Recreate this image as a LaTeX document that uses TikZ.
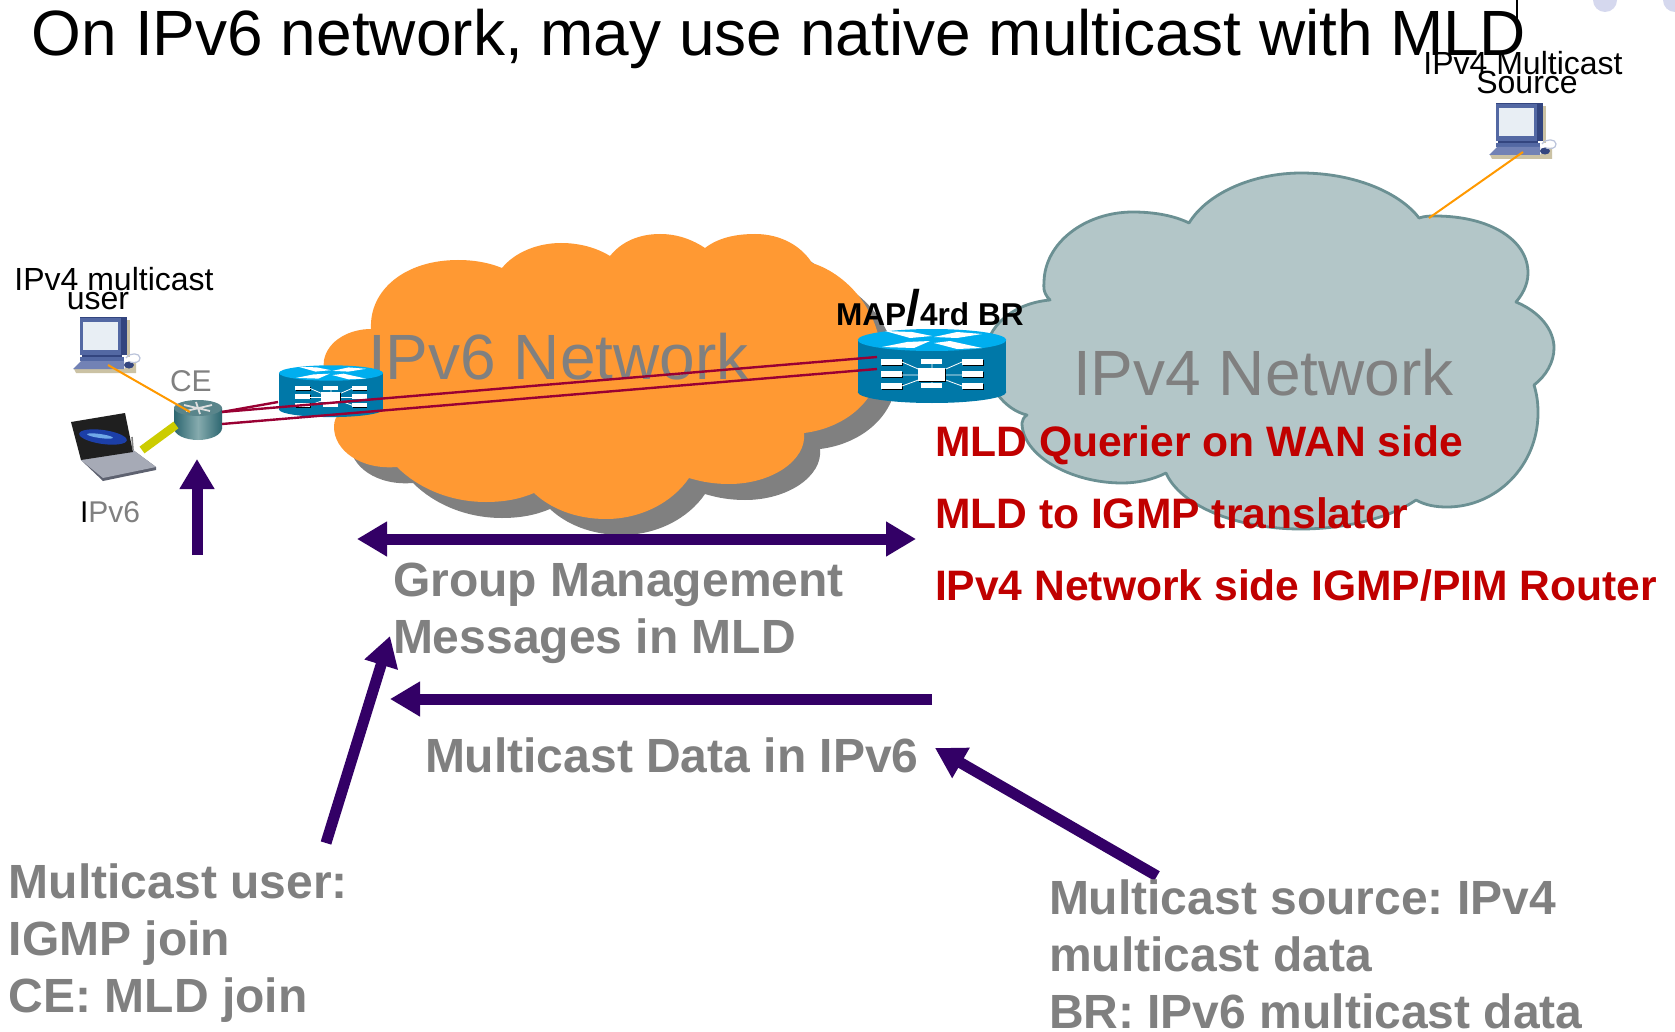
\documentclass[tikz,border=0pt]{standalone}
\usepackage{fontspec}
\setmainfont{Liberation Sans}
\usetikzlibrary{arrows.meta}
\frenchspacing
\definecolor{arrowpurple}{HTML}{330066}
\definecolor{cloudorange}{HTML}{FF9933}
\definecolor{cloudgrey}{HTML}{B3C6C8}
\definecolor{cloudedge}{HTML}{6B9093}
\definecolor{textgrey}{HTML}{808080}
\definecolor{textred}{HTML}{C00000}
\definecolor{linkred}{HTML}{990033}
\definecolor{linkorange}{HTML}{FF9900}
\definecolor{routerbody}{HTML}{0078A8}
\definecolor{routertop}{HTML}{00AEEF}
\definecolor{dotlav}{HTML}{D5D8EE}
\definecolor{pcface}{HTML}{5368A3}
\definecolor{pcdark}{HTML}{33457F}
\definecolor{pclight}{HTML}{7282B5}
\definecolor{pcscreen}{HTML}{E8EEF4}
\definecolor{pcshadow}{HTML}{CBC2A4}
\definecolor{ceside}{HTML}{2C6670}
\definecolor{cemid}{HTML}{86ABAE}
\definecolor{cetop}{HTML}{5A858B}
\definecolor{lapdeck}{HTML}{A6AAB6}
\definecolor{lapedge}{HTML}{5E6270}
\definecolor{lapswirl}{HTML}{1C3FA8}
\definecolor{lapglow}{HTML}{6FA8E8}
\definecolor{linkyellow}{HTML}{CCCC00}
\tikzset{
  orangeoutline/.style={insert path={
    (371,329) .. controls (369,290) and (405,260) .. (458,260) .. controls (475,260) and (490,263) .. (502,268)
    .. controls (515,252) and (538,243) .. (561,243) .. controls (580,243) and (597,248) .. (610,256)
    .. controls (622,241) and (640,234) .. (660,234) .. controls (678,234) and (693,240) .. (705,248)
    .. controls (718,238) and (735,234) .. (755,234) .. controls (782,234) and (802,247) .. (812,263)
    .. controls (850,275) and (881,315) .. (881,357) .. controls (881,400) and (845,428) .. (804,433)
    .. controls (807,460) and (772,484) .. (729,484) .. controls (715,484) and (702,482) .. (689,478)
    .. controls (672,503) and (640,519) .. (606,519) .. controls (575,519) and (550,508) .. (534,493)
    .. controls (520,499) and (504,502) .. (486,502) .. controls (450,502) and (418,488) .. (397,467)
    .. controls (360,470) and (334,450) .. (334,427) .. controls (334,420) and (336,417) .. (340,413)
    .. controls (328,400) and (322,380) .. (324,360) .. controls (328,340) and (350,329) .. (371,329) -- cycle}},
  greyoutline/.style={insert path={
    (1050,300) .. controls (1042,292) and (1044,285) .. (1044,283) .. controls (1044,243) and (1085,212) .. (1133,212) .. controls (1155,212) and (1175,216) .. (1189,223)
    .. controls (1208,192) and (1255,173) .. (1301,173) .. controls (1355,173) and (1400,193) .. (1419,218)
    .. controls (1425,216) and (1430,216) .. (1435,216) .. controls (1490,216) and (1528,240) .. (1528,273) .. controls (1528,285) and (1522,295) .. (1516,302)
    .. controls (1540,312) and (1554,330) .. (1554,348) .. controls (1554,362) and (1546,376) .. (1534,385)
    .. controls (1537,395) and (1538,403) .. (1538,413) .. controls (1538,465) and (1497,507) .. (1447,507) .. controls (1435,507) and (1425,505) .. (1416,500)
    .. controls (1390,518) and (1345,529) .. (1301,529) .. controls (1235,529) and (1180,505) .. (1166,473)
    .. controls (1152,480) and (1137,483) .. (1122,483) .. controls (1070,483) and (1022,455) .. (1022,423) .. controls (1022,420) and (1024,417) .. (1027,415)
    .. controls (1005,410) and (985,385) .. (985,358) .. controls (985,325) and (1015,303) .. (1050,300) -- cycle}},
  bigarrow/.style={draw=arrowpurple,line width=5.5pt,-{Triangle[length=15pt,width=16.5pt]}},
  bothways/.style={draw=arrowpurple,line width=5.5pt,{Triangle[length=15pt,width=16.5pt]}-{Triangle[length=15pt,width=16.5pt]}},
  redlink/.style={draw=linkred,line width=1.2pt},
  orangelink/.style={draw=linkorange,line width=1pt},
  txt/.style={inner sep=0pt,outer sep=0pt,anchor=base west},
  txtc/.style={inner sep=0pt,outer sep=0pt,anchor=base},
  cloudlabel/.style={txt,text=textgrey,font=\fontsize{32}{38}\selectfont},
  redlabel/.style={txt,text=textred,font=\fontsize{21.3}{25}\selectfont\bfseries},
  notelabel/.style={txt,text=textgrey,align=left,font=\fontsize{24}{28.5}\selectfont\bfseries},
  smalllabel/.style={txtc,font=\fontsize{16}{19}\selectfont},
  router/.pic={
    \fill[routerbody] (0,52) ellipse [x radius=74.3,y radius=11];
    \fill[routerbody] (-74.3,0) rectangle (74.3,52);
    \fill[routertop] (0,0) ellipse [x radius=74.3,y radius=11];
    \fill[white] (-47,-9) -- (-20,-8) -- (0,-4) -- (-22,-2) -- cycle;
    \fill[white] (2,-3) -- (25,-8) -- (50,-6) -- (25,-2) -- cycle;
    \fill[white] (-50,7) -- (-25,2) -- (-2,1) -- (-18,8) -- cycle;
    \fill[white] (2,3) -- (18,1) -- (50,8) -- (25,9) -- cycle;
    \foreach \yy in {20,32,44}{
      \fill[black] (-50,\yy-0.5) rectangle (-29,\yy+5.5);
      \fill[black] (31,\yy-0.5) rectangle (52,\yy+5.5);
      \fill[white] (-51,\yy-1.5) rectangle (-30,\yy+4.5);
      \fill[white] (30,\yy-1.5) rectangle (51,\yy+4.5);
    }
    \fill[white] (-11,18.5) rectangle (9.5,24);
    \fill[white] (-11,42.5) rectangle (9.5,48);
    \draw[white,line width=.4pt] (-30,22) -- (0,35) -- (30,22) (-30,46) -- (0,35) -- (30,46) (-30,35) -- (30,35) (0,22) -- (0,46);
    \fill[black] (-13,28.5) rectangle (14,42);
    \fill[white] (-14,27.5) rectangle (13,41);
  },
  desktop/.pic={
    \fill[pcshadow] (-6,52) -- (44,52) -- (52,45) -- (56,45) -- (56,56) -- (-4,56) -- cycle;
    \fill[pcshadow] (47,3) rectangle (50,40);
    \fill[pcdark] (0,0) rectangle (47,38);
    \fill[pcface] (0,1) rectangle (41,38);
    \fill[pcscreen] (3,5) rectangle (38,33);
    \fill[pcdark] (2,38) rectangle (42,40);
    \fill[pcface] (0,40) rectangle (44,44);
    \fill[pclight] (-7,52) -- (1,44) -- (44,44) -- (44,52) -- cycle;
    \fill[pcdark] (49,48) ellipse [x radius=5,y radius=3.5];
    \draw[pcface!40!white,line width=.6pt] (46,41) .. controls (50,35) and (60,36) .. (60,41) .. controls (60,46) and (54,46) .. (50,45);
  },
}
\begin{document}
\begin{tikzpicture}[x=0.5pt,y=-0.5pt]
\useasboundingbox (0,0) rectangle (1675,1032);
\fill[white] (0,0) rectangle (1675,1032);
\begin{scope}
  \clip (0,0) rectangle (1675,1032);
  \fill[dotlav] (1605,0) circle [radius=12];
  \fill[dotlav] (1675,0) circle [radius=12];
\end{scope}
\coordinate (barTop) at (1517,0);
\coordinate (barEnd) at (1517,20);
\draw[black,line width=.6pt] (barTop) -- (barEnd);
% clouds
\begin{scope}[shift={(16,16)}]
  \fill[textgrey,orangeoutline];
\end{scope}
\fill[cloudorange,orangeoutline];
\draw[fill=cloudgrey,draw=cloudedge,line width=1.4pt,line join=round,greyoutline];
% cloud labels
\node[cloudlabel] (v6net) at (368,379) {IPv6 Network};
\node[cloudlabel] (v4net) at (1073,395) {IPv4 Network};
% routers
\pic (smallR) [scale=0.7] at (331,373) {router};
\pic (bigR) at (932,340) {router};
% CE
\shade[left color=ceside,right color=ceside,middle color=cemid] (198,428) ellipse [x radius=24,y radius=12];
\shade[left color=ceside,right color=ceside,middle color=cemid] (174,408) rectangle (222,428);
\fill[cetop] (198,408) ellipse [x radius=24,y radius=8];
\draw[white!75!gray,line width=.9pt] (184,405) -- (210,411) (186,411) -- (212,405) (196,402) -- (200,414);
% endpoints
\coordinate (ceOutA) at (222,412);
\coordinate (ceOutB) at (222,424);
\coordinate (smallEdge) at (278,402);
\coordinate (bigInA) at (877,357);
\coordinate (bigInB) at (877,369);
\coordinate (userPort) at (108,365);
\coordinate (cePort) at (190,412);
\coordinate (srcPort) at (1523,152);
\coordinate (cloudPort) at (1429,218);
\coordinate (lapEnd) at (142,450);
\coordinate (ceSide) at (176,425);
\draw[redlink] (ceOutA) -- (smallEdge);
\draw[redlink] (ceOutA) -- (bigInA);
\draw[redlink] (ceOutB) -- (bigInB);
% computers
\pic (userPC) at (80,317) {desktop};
\pic (srcPC) at (1496,103) {desktop};
\draw[orangelink] (userPort) -- (cePort);
\draw[orangelink] (srcPort) -- (cloudPort);
% laptop
\fill[lapedge] (81,460) -- (133,450) -- (156,467) -- (156,470) -- (103,481) -- cycle;
\fill[lapdeck] (81,460) -- (133,450) -- (156,467) -- (103,478) -- cycle;
\fill[black!88] (71,422) -- (125,413) -- (133,452) -- (81,460) -- cycle;
\fill[lapswirl,rotate around={-8:(103,437)}] (103,437) ellipse [x radius=24,y radius=7];
\fill[lapglow,rotate around={-8:(100,436)}] (100,436) ellipse [x radius=13,y radius=2];
\draw[black!50,line width=.8pt] (132,437) -- (133,450);
\draw[draw=linkyellow,line width=4.2pt] (lapEnd) -- (ceSide);
% arrows
\coordinate (a1t) at (197,555); \coordinate (a1h) at (197,459);
\coordinate (a2l) at (357,539); \coordinate (a2r) at (916,539);
\coordinate (a3t) at (932,699); \coordinate (a3h) at (390,699);
\coordinate (a4t) at (326,843); \coordinate (a4h) at (390,636);
\coordinate (a5t) at (1157,876); \coordinate (a5h) at (935,748);
\draw[bigarrow] (a1t) -- (a1h);
\draw[bothways] (a2l) -- (a2r);
\draw[bigarrow] (a3t) -- (a3h);
\draw[bigarrow] (a4t) -- (a4h);
\draw[bigarrow] (a5t) -- (a5h);
% texts
\node[txt,font=\fontsize{32}{38}\selectfont] (title) at (32,56) {On IPv6 network, may use native multicast with MLD};
\node[smalllabel] (src1) at (1523,75) {IPv4 Multicast};
\node[smalllabel] (src2) at (1527,94) {Source};
\node[smalllabel] (usr1) at (114,291) {IPv4 multicast};
\node[smalllabel] (usr2) at (98,309) {user};
\node[txt,text=textgrey,font=\fontsize{15}{18}\selectfont] (ce) at (170,391) {CE};
\node[txt,text=textgrey,font=\fontsize{15}{18}\selectfont] (ipv6) at (80,522) {\textcolor{black}{I}Pv6};
\node[txt,font=\fontsize{15.8}{18}\selectfont\bfseries] (br) at (836,325) {MAP{\fontsize{25}{25}\selectfont /}4rd BR};
\node[redlabel] (r1) at (935,456) {MLD Querier on WAN side};
\node[redlabel] (r2) at (935,528) {MLD to IGMP translator};
\node[redlabel] (r3) at (935,600) {IPv4 Network side IGMP/PIM Router};
\node[notelabel,anchor=north west] (n1) at (393,563) {Group Management\\Messages in MLD};
\node[notelabel] (n2) at (425,772) {Multicast Data in IPv6};
\node[notelabel,anchor=north west] (n3) at (9,864) {Multicast user:\\IGMP join\\CE: MLD join};
\node[notelabel,anchor=north west] (n4) at (1049,880) {Multicast source: IPv4\\multicast data\\BR: IPv6 multicast data};
\end{tikzpicture}
\end{document}
